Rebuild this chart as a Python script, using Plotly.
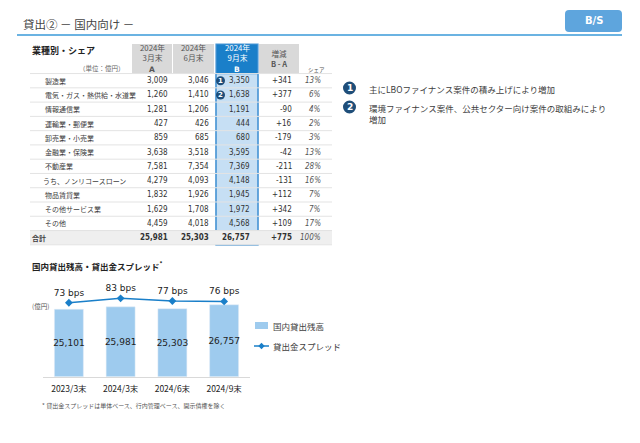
import plotly.graph_objects as go

# ---- data ----
industries = ["製造業", "電気・ガス・熱供給・水道業", "情報通信業", "運輸業・郵便業",
              "卸売業・小売業", "金融業・保険業", "不動産業", "うち、ノンリコースローン",
              "物品賃貸業", "その他サービス業", "その他", "合計"]
mar24 = ["3,009", "1,260", "1,281", "427", "859", "3,638", "7,581", "4,279",
         "1,832", "1,629", "4,459", "25,981"]
jun24 = ["3,046", "1,410", "1,206", "426", "685", "3,518", "7,354", "4,093",
         "1,926", "1,708", "4,018", "25,303"]
sep24 = ["3,350", "1,638", "1,191", "444", "680", "3,595", "7,369", "4,148",
         "1,945", "1,972", "4,568", "26,757"]
change = ["+341", "+377", "-90", "+16", "-179", "-42", "-211", "-131",
          "+112", "+342", "+109", "+775"]
share = ["13%", "6%", "4%", "2%", "3%", "13%", "28%", "16%", "7%", "7%", "17%", "100%"]
col_heads = ["2024年<br>3月末", "2024年<br>6月末", "2024年<br>9月末"]
col_keys = ["A", "", "B"]

notes = ["主にLBOファイナンス案件の積み上げにより増加",
         "環境ファイナンス案件、公共セクター向け案件の取組みにより<br>増加"]

periods = ["2023/3末", "2024/3末", "2024/6末", "2024/9末"]
balance = [25101, 25981, 25303, 26757]
spread = [73, 83, 77, 76]

W, H = 640, 443
FONT = "Noto Sans CJK JP"
DARK = "#404040"
BLUE = "#1a7fc9"
LIGHT = "#c6dff4"
GREY = "#d9d9d9"
BAR = "#9ecbee"


def px(x):
    return x / W


def py(y):
    return 1 - y / H


fig = go.Figure()

fig.add_trace(go.Bar(
    x=periods, y=balance, name="国内貸出残高",
    marker=dict(color=BAR),
    text=[f"{v:,}" for v in balance], textposition="inside",
    insidetextanchor="middle", textangle=0, constraintext="none",
    textfont=dict(size=9, color="#222", family="DejaVu Sans"),
))
fig.add_trace(go.Scatter(
    x=periods, y=spread, name="貸出金スプレッド", yaxis="y2",
    mode="lines+markers+text", text=[f"{v} bps" for v in spread],
    textposition="top center", cliponaxis=False,
    textfont=dict(size=9, color="#222", family="DejaVu Sans"),
    line=dict(color=BLUE, width=1.5),
    marker=dict(symbol="diamond", size=6, color=BLUE),
))

shapes = []
ann = []


def text(x, y, s, size=8, color=DARK, anchor="left", bold=False, italic=False, fam=FONT):
    if bold:
        s = f"<b>{s}</b>"
    if italic:
        s = f"<i>{s}</i>"
    ann.append(dict(x=px(x), y=py(y), xref="paper", yref="paper", text=s,
                    showarrow=False, xanchor=anchor, yanchor="middle",
                    font=dict(size=size, color=color, family=fam)))


def rect(x0, y0, x1, y1, fill, line=None, lw=0):
    shapes.append(dict(type="rect", xref="paper", yref="paper",
                       x0=px(x0), x1=px(x1), y0=py(y1), y1=py(y0),
                       fillcolor=fill, line=dict(color=line or fill, width=lw),
                       layer="below"))


def hline(x0, x1, y, color, w=1):
    shapes.append(dict(type="line", xref="paper", yref="paper",
                       x0=px(x0), x1=px(x1), y0=py(y), y1=py(y),
                       line=dict(color=color, width=w), layer="below"))


# title + rule + B/S tag
text(21, 24, "貸出② － 国内向け －", size=11.5, color="#444")
hline(17, 622, 35, "#3a9ad9", 1.5)
r = 4
bx0, bx1, by0, by1 = 565, 622, 10, 32
path = (f"M {px(bx0 + r)} {py(by0)} L {px(bx1 - r)} {py(by0)} "
        f"Q {px(bx1)} {py(by0)} {px(bx1)} {py(by0 + r)} L {px(bx1)} {py(by1 - r)} "
        f"Q {px(bx1)} {py(by1)} {px(bx1 - r)} {py(by1)} L {px(bx0 + r)} {py(by1)} "
        f"Q {px(bx0)} {py(by1)} {px(bx0)} {py(by1 - r)} L {px(bx0)} {py(by0 + r)} "
        f"Q {px(bx0)} {py(by0)} {px(bx0 + r)} {py(by0)} Z")
shapes.append(dict(type="path", xref="paper", yref="paper", path=path,
                   fillcolor="#5ea5dd", line=dict(width=0)))
text(593.5, 21, "B/S", size=10, color="white", anchor="center", bold=True, fam="DejaVu Sans")

# ---- table ----
row0, rh = 80.7, 14.27
top = row0 - rh / 2
bottom = row0 + rh * (len(industries) - 0.5)
cols = [(132, 172), (173, 214), (216, 258), (259, 299)]
right_edges = [170, 211, 252, 294]

text(30, 51, "業種別・シェア", size=9, color="#222", bold=True)
text(127, 68, "（単位：億円）", size=6.5, color="#666", anchor="right")

for i, (c0, c1) in enumerate(cols):
    fill = BLUE if i == 2 else GREY
    rect(c0, 44, c1, top, fill)
rect(216, top, 258, bottom, LIGHT, line="#4b97d6", lw=1.2)
rect(216, 44, 258, bottom, "rgba(0,0,0,0)", line="#4b97d6", lw=1.2)

for i, h in enumerate(col_heads):
    cx = sum(cols[i]) / 2
    col = "white" if i == 2 else "#555"
    ann.append(dict(x=px(cx), y=py(52.8), xref="paper", yref="paper", text=h,
                    showarrow=False, xanchor="center", yanchor="middle",
                    font=dict(size=7.8, color=col, family=FONT)))
    if col_keys[i]:
        text(cx, 69, col_keys[i], size=7.5, color=col, anchor="center", bold=True,
             fam="DejaVu Sans")
ann.append(dict(x=px(279), y=py(58.5), xref="paper", yref="paper",
                text="増減<br><b>B - A</b>", showarrow=False,
                xanchor="center", yanchor="middle",
                font=dict(size=7.5, color="#555", family=FONT)))
text(316, 69.5, "シェア", size=5.5, color="#555", anchor="center")

n = len(industries)
rect(30, top + rh * (n - 1), 332, bottom, "#efefef")
for k in range(n):
    hline(30, 332, top + rh * k, "#e3e3e3", 1)
hline(30, 332, bottom, "#e3e3e3", 1)

for k in range(n):
    y = row0 + rh * k
    total = k == n - 1
    lx = 30 if total else (41 if k == 7 else 43)
    text(lx, y, industries[k], size=7, color=DARK, bold=total)
    for j, vals in enumerate([mar24, jun24, sep24, change]):
        text(right_edges[j], y, vals[k], size=8, color="#333", anchor="right",
             bold=total, fam="DejaVu Sans Condensed")
    text(323, y, share[k], size=8, color="#555", anchor="right", italic=True,
         fam="DejaVu Sans Condensed")

# badges
for k in range(2):
    y = row0 + rh * k
    shapes.append(dict(type="circle", xref="paper", yref="paper",
                       x0=px(216), x1=px(225), y0=py(y + 4.5), y1=py(y - 4.5),
                       fillcolor="#1f4e79", line=dict(width=0)))
    text(220.5, y, str(k + 1), size=7, color="white", anchor="center", bold=True,
         fam="DejaVu Sans")

# notes on right
for k, s in enumerate(notes):
    y = 88 + 19 * k
    shapes.append(dict(type="circle", xref="paper", yref="paper",
                       x0=px(343), x1=px(356), y0=py(y + 6.5), y1=py(y - 6.5),
                       fillcolor="#1f4e79", line=dict(width=0)))
    text(349.5, y, str(k + 1), size=9, color="white", anchor="center", bold=True,
         fam="DejaVu Sans")
    ann.append(dict(x=px(367), y=py(y - 7), xref="paper", yref="paper", text=s,
                    showarrow=False, xanchor="left", yanchor="top", align="left",
                    font=dict(size=8.5, color=DARK, family=FONT)))

# chart labels
text(30, 265, "国内貸出残高・貸出金スプレッド<sup>*</sup>", size=8.5, color="#222", bold=True)
text(30, 306, "(億円)", size=6.5, color="#555")
text(40, 405, "* 貸出金スプレッドは単体ベース、行内管理ベース、開示債権を除く", size=6, color="#555")

# legend drawn by hand so the swatch sits close to its text
rect(255, 322, 268, 329, BAR)
text(271, 325.5, fig.data[0].name, size=8.5)
hline(254, 269, 346, BLUE, 1.5)
dx, dy = 3.2, 3.2
shapes.append(dict(type="path", xref="paper", yref="paper",
                   path=(f"M {px(261.5 - dx)} {py(346)} L {px(261.5)} {py(346 - dy)} "
                         f"L {px(261.5 + dx)} {py(346)} L {px(261.5)} {py(346 + dy)} Z"),
                   fillcolor=BLUE, line=dict(width=0)))
text(271, 346, fig.data[1].name, size=8.5)

fig.update_layout(
    width=W, height=H,
    margin=dict(l=0, r=0, t=0, b=0),
    paper_bgcolor="white", plot_bgcolor="white",
    shapes=shapes, annotations=ann,
    bargap=0.44,
    showlegend=False,
    xaxis=dict(domain=[px(43), px(250)], showgrid=False, showline=True,
               linecolor="#d9d9d9", linewidth=1, ticks="", ticklabelstandoff=4,
               tickfont=dict(size=8.5, color="#222", family=FONT)),
    yaxis=dict(domain=[py(376.7), py(290)], range=[0, 32250], visible=False),
    yaxis2=dict(overlaying="y", range=[-95, 102], visible=False),
)

fig.write_html("out.html", config={"displayModeBar": False},
               post_script="document.body.style.margin='0';")
